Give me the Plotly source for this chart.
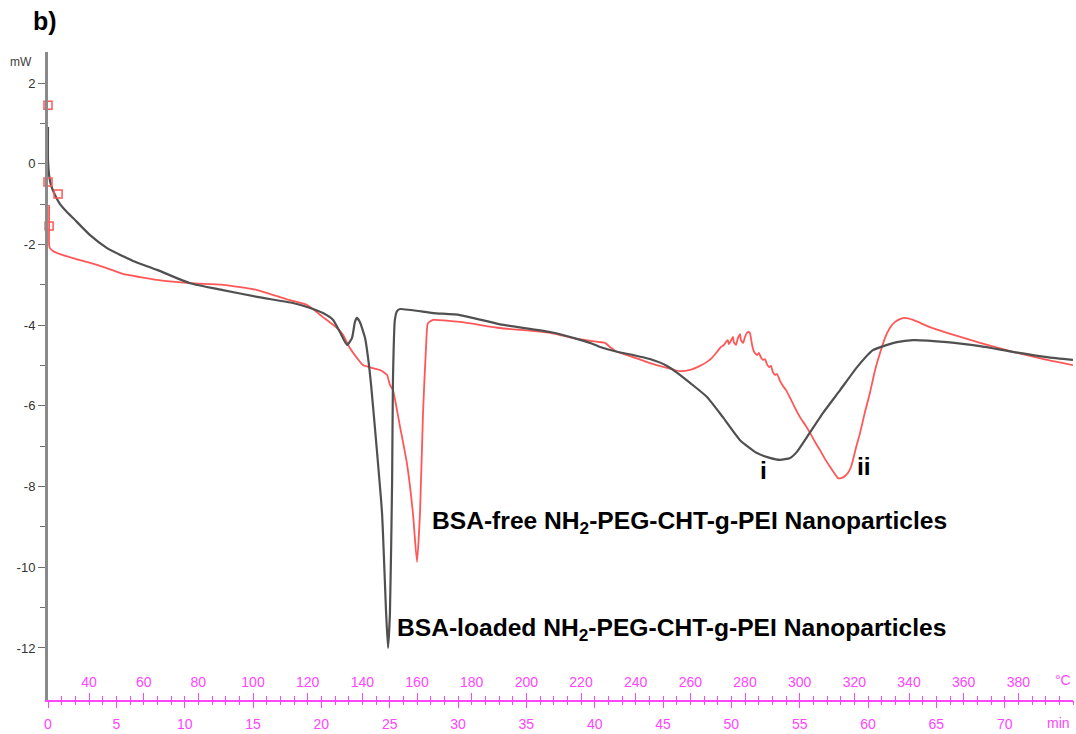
import plotly.graph_objects as go

# DSC thermograms, heat flow (mW) vs temperature (°C); heating 5 °C/min from 25 °C
loaded_T = [25.0, 25.0, 25.4, 26.1, 27.6, 29.4, 32.0, 34.1, 40.4, 46.6, 52.4, 56.1,
            64.9, 77.0, 89.0, 101.5, 114.6, 119.8, 125.6, 129.3, 131.8, 134.4, 136.2,
            137.3, 138.0, 139.1, 141.0, 142.1, 143.2, 145.0, 147.2, 148.7, 149.4, 150.1,
            150.9, 151.2, 151.9, 152.7, 153.8, 165.9, 175.7, 190.4, 208.7, 218.5, 223.3,
            227.0, 233.2, 239.0, 245.2, 251.5, 256.2, 259.9, 266.1, 271.9, 278.2, 284.4,
            289.1, 292.8, 296.5, 299.0, 302.7, 308.5, 314.8, 321.0, 326.8, 335.6, 341.5,
            353.9, 366.0, 378.0, 390.5, 400.0]
loaded_mW = [0.91, 0.09, -0.28, -0.53, -0.78, -1.00, -1.20, -1.34, -1.77, -2.09, -2.29, -2.41,
             -2.63, -2.96, -3.13, -3.30, -3.45, -3.55, -3.70, -3.87, -4.17, -4.49, -4.32,
             -3.92, -3.82, -3.92, -4.32, -4.81, -5.48, -6.85, -8.65, -11.13, -12.00, -11.13,
             -7.84, -5.36, -3.87, -3.65, -3.60, -3.70, -3.75, -3.98, -4.17, -4.34, -4.44,
             -4.54, -4.66, -4.74, -4.84, -5.01, -5.23, -5.43, -5.78, -6.28, -6.85, -7.17,
             -7.29, -7.34, -7.29, -7.14, -6.77, -6.18, -5.61, -5.04, -4.62, -4.42, -4.37,
             -4.42, -4.52, -4.66, -4.79, -4.86]

free_T = [25.4, 25.4, 25.4, 25.7, 26.8, 29.4, 34.1, 44.0, 52.4, 58.7, 64.9, 77.0, 89.0,
          101.5, 113.5, 119.8, 125.6, 130.7, 132.9, 135.5, 138.0, 140.2, 143.5, 146.5,
          149.0, 150.1, 151.2, 153.8, 156.3, 158.5, 160.0, 161.1, 162.2, 163.3, 164.0,
          165.9, 175.7, 190.4, 208.7, 218.5, 227.0, 228.8, 230.6, 233.2, 239.0, 245.2,
          251.5, 256.2, 259.9, 263.5, 266.1, 267.9, 269.8, 271.2, 272.3, 273.0, 273.7,
          274.1, 274.8, 275.6, 275.9, 276.7, 277.4, 278.2, 278.5, 279.3, 280.0, 280.7,
          281.5, 281.8, 282.6, 283.3, 284.4, 285.1, 285.9, 286.6, 287.3, 288.0, 288.8,
          289.5, 290.2, 291.0, 291.7, 292.8, 293.9, 295.0, 296.5, 298.3, 300.1, 302.0,
          303.8, 305.6, 307.4, 309.3, 311.1, 312.9, 314.0, 315.1, 316.2, 317.7, 318.8,
          319.5, 320.6, 322.1, 323.9, 325.7, 327.6, 329.4, 331.2, 333.0, 334.9, 336.7,
          338.5, 341.5, 347.7, 353.9, 366.0, 378.0, 390.5, 400.0]
free_mW = [-1.02, -1.52, -2.01, -2.09, -2.16, -2.24, -2.34, -2.53, -2.73, -2.81, -2.88, -2.96,
           -3.00, -3.13, -3.38, -3.50, -3.80, -4.07, -4.24, -4.57, -4.81, -4.99, -5.06,
           -5.11, -5.23, -5.48, -5.61, -6.52, -7.42, -8.65, -9.87, -8.65, -6.18, -4.54,
           -3.95, -3.87, -3.92, -4.07, -4.19, -4.34, -4.42, -4.44, -4.54, -4.66, -4.79,
           -4.94, -5.06, -5.14, -5.11, -5.01, -4.91, -4.81, -4.66, -4.54, -4.49, -4.42,
           -4.37, -4.47, -4.39, -4.29, -4.42, -4.49, -4.32, -4.22, -4.37, -4.44, -4.29,
           -4.19, -4.17, -4.19, -4.49, -4.66, -4.74, -4.69, -4.81, -4.86, -4.84, -4.96,
           -5.04, -5.01, -5.16, -5.23, -5.21, -5.38, -5.51, -5.61, -5.80, -6.05, -6.28,
           -6.47, -6.67, -6.89, -7.09, -7.32, -7.51, -7.69, -7.79, -7.79, -7.76, -7.66,
           -7.51, -7.34, -7.04, -6.67, -6.15, -5.68, -5.11, -4.69, -4.32, -4.07, -3.92,
           -3.85, -3.82, -3.87, -4.05, -4.19, -4.44, -4.66, -4.86, -4.99]

# segment markers at the start of the BSA-free run
mark_T = [25.0, 25.0, 28.7, 25.4]
mark_mW = [1.45, -0.45, -0.75, -1.54]

mw_ticks = [2, 0, -2, -4, -6, -8, -10, -12]
mw_labels = ["2", "0", "-2", "-4", "-6", "-8", "-10", "-12"]
mw_minor = [1, -1, -3, -5, -7, -9, -11, -13]
temp_ticks = list(range(40, 381, 20))
min_ticks = list(range(0, 71, 5))

T_RANGE = [25, 400]
MIN_RANGE = [0, 75]
MW_RANGE = [-13.29, 2.77]

MAGENTA = "#ff45ff"
RED = "#ff5757"
DARK = "#505050"
FONT = "Liberation Sans"

fig = go.Figure()
fig.add_trace(go.Scatter(x=free_T, y=free_mW, mode="lines",
                         line=dict(color=RED, width=1.8, shape="spline", smoothing=0.5),
                         showlegend=False))
fig.add_trace(go.Scatter(x=loaded_T, y=loaded_mW, mode="lines",
                         line=dict(color=DARK, width=2.2, shape="spline", smoothing=0.5),
                         showlegend=False))
fig.add_trace(go.Scatter(x=mark_T, y=mark_mW, mode="markers", cliponaxis=False,
                         marker=dict(symbol="square-open", size=8, color=RED,
                                     line=dict(width=1.5, color=RED)),
                         showlegend=False))
# invisible trace to carry the minutes axis
fig.add_trace(go.Scatter(x=MIN_RANGE, y=[None, None], xaxis="x2", mode="lines",
                         showlegend=False, hoverinfo="skip"))

fig.update_layout(
    width=1076, height=734,
    margin=dict(l=48, r=3, t=52, b=34),
    paper_bgcolor="white", plot_bgcolor="white",
    font=dict(family=FONT),
    xaxis=dict(range=T_RANGE, showgrid=False, zeroline=False,
               showline=True, linecolor=MAGENTA, linewidth=1.5,
               tickmode="array", tickvals=temp_ticks,
               ticks="inside", ticklen=7, tickwidth=1.2, tickcolor=MAGENTA,
               ticklabelposition="inside", ticklabelstandoff=3,
               tickfont=dict(color=MAGENTA, size=14, family=FONT),
               minor=dict(dtick=5, tick0=25, ticks="inside", ticklen=4,
                          tickcolor=MAGENTA, tickwidth=1)),
    xaxis2=dict(range=MIN_RANGE, overlaying="x", anchor="y", side="bottom",
                showgrid=False, zeroline=False, showline=False,
                tickmode="array", tickvals=min_ticks,
                ticks="outside", ticklen=7, tickwidth=1.2, tickcolor=MAGENTA,
                ticklabelstandoff=4,
                tickfont=dict(color=MAGENTA, size=14, family=FONT),
                minor=dict(dtick=1, tick0=0, ticks="outside", ticklen=4,
                           tickcolor=MAGENTA, tickwidth=1)),
    yaxis=dict(range=MW_RANGE, showgrid=False, zeroline=False,
               showline=True, linecolor="#8a8a8a", linewidth=3,
               tickmode="array", tickvals=mw_ticks, ticktext=mw_labels,
               ticks="outside", ticklen=7, tickwidth=1.2, tickcolor="#707070",
               tickfont=dict(color="#333333", size=13, family=FONT),
               minor=dict(tickvals=mw_minor, ticks="outside", ticklen=5,
                          tickcolor="#707070", tickwidth=1.2)),
)

label_font = dict(family=FONT, size=24.6, color="black")
annotations = [
    dict(x=164.8, y=-8.88, text="<b>BSA-free NH<sub>2</sub>-PEG-CHT-g-PEI Nanoparticles</b>",
         xanchor="left", yanchor="middle", font=label_font),
    dict(x=152.0, y=-11.55, text="<b>BSA-loaded NH<sub>2</sub>-PEG-CHT-g-PEI Nanoparticles</b>",
         xanchor="left", yanchor="middle", font=label_font),
    dict(x=286.6, y=-7.61, text="<b>i</b>", xanchor="center", yanchor="middle", font=label_font),
    dict(x=323.5, y=-7.51, text="<b>ii</b>", xanchor="center", yanchor="middle", font=label_font),
]
for a in annotations:
    a.update(xref="x", yref="y", showarrow=False)

# titles placed around the frame (paper coordinates)
plot_w, plot_h = 1076 - 48 - 3, 734 - 52 - 34
def px(x):
    return (x - 48) / plot_w
def py(y):
    return (734 - 34 - y) / plot_h

frame_texts = [
    dict(x=px(45), y=py(21), text="<b>b)</b>", xanchor="center", yanchor="middle",
         font=dict(family=FONT, size=25, color="black")),
    dict(x=px(21), y=py(62), text="mW", xanchor="center", yanchor="middle",
         font=dict(family=FONT, size=12, color="#404040")),
    dict(x=px(1072), y=py(723), text="min", xanchor="right", yanchor="middle",
         font=dict(family=FONT, size=14, color=MAGENTA)),
]
for a in frame_texts:
    a.update(xref="paper", yref="paper", showarrow=False)
annotations.append(dict(x=1.0, xref="paper", y=-12.8, yref="y", text="°C", xanchor="right",
                        yanchor="middle", showarrow=False,
                        font=dict(family=FONT, size=14, color=MAGENTA)))
fig.update_layout(annotations=annotations + frame_texts)

fig.write_html("out.html")
